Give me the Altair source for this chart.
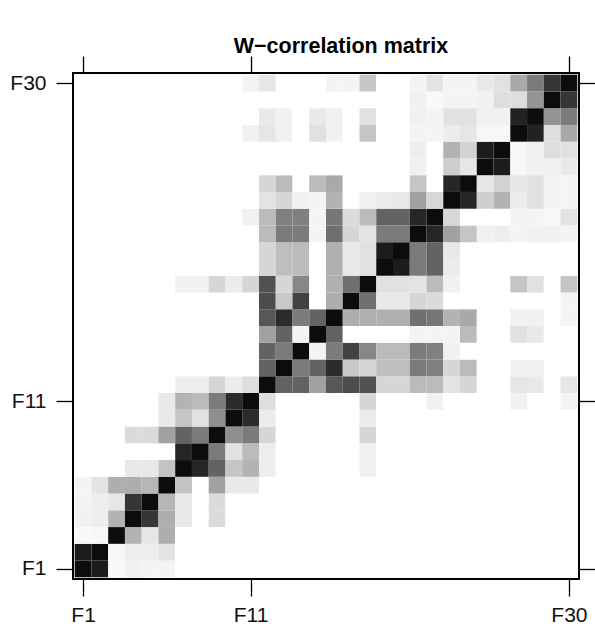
import altair as alt
import pandas as pd

n_comp = 30
tick_components = [1, 11, 30]

# |w-correlation| of elementary components F1..F30, upper triangle.
# Entry k holds {column: value} for columns > k+1; missing cells are 0,
# the diagonal is 1.
wcor_rows = [
    {2: .93, 3: .02, 4: .05, 5: .04, 6: .04},                                   # F1
    {3: .03, 4: .06, 5: .06, 6: .10},                                           # F2
    {4: .28, 5: .09, 6: .30},                                                   # F3
    {5: .80, 6: .30, 7: .08, 9: .13},                                           # F4
    {6: .27, 7: .08, 9: .13},                                                   # F5
    {7: .22, 9: .35, 10: .08, 11: .08},                                         # F6
    {8: .88, 9: .60, 10: .21, 11: .28, 12: .06, 18: .05},                       # F7
    {9: .50, 10: .11, 11: .25, 12: .06, 18: .05},                               # F8
    {10: .42, 11: .50, 12: .15, 18: .15},                                       # F9
    {11: .85, 12: .07, 18: .07},                                                # F10
    {12: .12, 18: .15, 22: .05, 27: .05, 30: .04},                              # F11
    {13: .60, 14: .60, 15: .35, 16: .65, 17: .70, 18: .68, 19: .15, 20: .15,
     21: .25, 22: .25, 23: .10, 24: .15, 27: .09, 28: .08, 30: .09},            # F12
    {14: .50, 15: .60, 16: .85, 17: .20, 18: .15, 19: .24, 20: .24, 21: .50,
     22: .48, 23: .15, 24: .25, 27: .05, 28: .05},                              # F13
    {15: .04, 16: .50, 17: .75, 18: .45, 19: .25, 20: .25, 21: .50, 22: .48,
     23: .05},                                                                  # F14
    {16: .60, 21: .04, 22: .04, 23: .04, 24: .25, 27: .11, 28: .08},            # F15
    {17: .30, 18: .29, 19: .29, 20: .29, 21: .55, 22: .52, 23: .28, 24: .32,
     27: .05, 28: .05, 30: .04},                                                # F16
    {18: .55, 19: .08, 20: .08, 21: .15, 22: .13, 30: .04},                     # F17
    {19: .11, 20: .11, 21: .10, 22: .25, 23: .05, 27: .21, 28: .11, 30: .21},   # F18
    {20: .93, 21: .50, 22: .60, 23: .07},                                       # F19
    {21: .50, 22: .60, 23: .08},                                                # F20
    {22: .88, 23: .35, 24: .21, 25: .05, 26: .06, 27: .04, 28: .05, 29: .05,
     30: .04},                                                                  # F21
    {23: .14, 27: .04, 28: .04, 29: .02, 30: .10},                              # F22
    {24: .88, 25: .18, 26: .28, 27: .07, 28: .11, 29: .04, 30: .04},            # F23
    {25: .09, 26: .16, 27: .09, 28: .11, 29: .04, 30: .04},                     # F24
    {26: .93, 27: .03, 28: .05, 29: .05, 30: .08},                              # F25
    {27: .03, 28: .05, 29: .12, 30: .11},                                       # F26
    {28: .90, 29: .12, 30: .32},                                                # F27
    {29: .40, 30: .50},                                                         # F28
    {30: .80},                                                                  # F29
    {},                                                                         # F30
]


def wcor(i, j):
    if i == j:
        return 1.0
    a, b = min(i, j), max(i, j)
    return wcor_rows[a - 1].get(b, 0.0)


records = []
for i in range(1, n_comp + 1):
    for j in range(1, n_comp + 1):
        records.append({
            "xi": i - 0.5, "xe": i + 0.5,
            "yi": j - 0.5, "ye": j + 0.5,
            "w": wcor(i, j),
        })
df = pd.DataFrame(records)

FONT = "Liberation Sans"
pos_scale = alt.Scale(domain=[0.4, 30.6], nice=False, zero=False)
gray = alt.Scale(domain=[0, 1], range=["#ffffff", "#0c0c0c"])

tick_style = dict(
    values=tick_components,
    tickSize=17,
    tickWidth=1.3,
    tickColor="black",
    domain=False,
    grid=False,
    title=None,
)
label_style = dict(
    labelExpr="'F' + datum.value",
    labelFont=FONT,
    labelFontSize=21,
    labelColor="#111111",
)

cells = alt.Chart(df).mark_rect().encode(
    x=alt.X("xi:Q", scale=pos_scale,
            axis=alt.Axis(orient="bottom", labelPadding=8, **tick_style, **label_style)),
    x2="xe:Q",
    y=alt.Y("yi:Q", scale=pos_scale,
            axis=alt.Axis(orient="left", labelPadding=10, **tick_style, **label_style)),
    y2="ye:Q",
    color=alt.Color("w:Q", scale=gray, legend=None),
)

# second, invisible layer that carries the tick-only top and right axes
frame_ticks = alt.Chart(df).mark_rect(opacity=0).encode(
    x=alt.X("xi:Q", scale=pos_scale,
            axis=alt.Axis(orient="top", labels=False, **tick_style)),
    x2="xe:Q",
    y=alt.Y("yi:Q", scale=pos_scale,
            axis=alt.Axis(orient="right", labels=False, **tick_style)),
    y2="ye:Q",
)

chart = alt.layer(cells, frame_ticks).resolve_axis(
    x="independent", y="independent"
).properties(
    width=506,
    height=506,
    autosize=alt.AutoSizeParams(type="none"),
    padding={"left": 73, "top": 73, "right": 16, "bottom": 48},
    title=alt.TitleParams(
        "W\u2212correlation matrix",
        font=FONT, fontSize=21.5, fontWeight="bold", color="black",
        anchor="middle", dx=15, offset=-2,
    ),
).configure_view(
    stroke="black", strokeWidth=2
)

chart.save("out.html", embed_options={"renderer": "svg", "actions": False})
